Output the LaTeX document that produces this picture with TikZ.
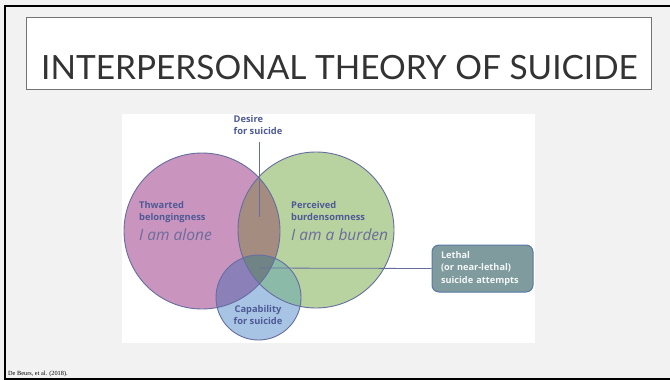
\documentclass[tikz,border=0pt]{standalone}
\usepackage{fontspec}
\setmainfont{Open Sans}
\newfontfamily\titlefont{Lato}
\newfontfamily\reffont{Liberation Serif}
\usetikzlibrary{calc}
\definecolor{slideBg}{RGB}{242,242,242}
\definecolor{pinkFill}{RGB}{201,148,190}
\definecolor{greenFill}{RGB}{184,210,160}
\definecolor{lensFill}{RGB}{165,140,128}
\definecolor{blueFill}{RGB}{168,196,228}
\definecolor{pinkBlue}{RGB}{140,128,184}
\definecolor{greenBlue}{RGB}{140,186,168}
\definecolor{tripleFill}{RGB}{112,132,134}
\definecolor{outlineCol}{RGB}{102,110,160}
\definecolor{labelCol}{RGB}{78,90,150}
\definecolor{quoteCol}{RGB}{108,108,155}
\definecolor{lethalFill}{RGB}{127,155,158}
\definecolor{lethalDraw}{RGB}{88,120,168}
\newcommand{\bigradius}{78}
\newcommand{\smallradius}{42.5}
\tikzset{
	venn/.style={draw=outlineCol, line width=0.9pt},
	vennlabel/.style={text=labelCol, font=\bfseries\fontsize{9.3}{12}\selectfont, align=left, inner sep=0pt},
	vennquote/.style={text=quoteCol, font=\itshape\fontsize{15.5}{17}\selectfont, inner sep=0pt},
	pointer/.style={draw=outlineCol, line width=0.8pt},
	lethalbox/.style={draw=lethalDraw, line width=1pt, fill=lethalFill, rounded corners=7pt,
		text=white!92!lethalFill, font=\bfseries\fontsize{9.2}{12.5}\selectfont, align=left,
		text width=83pt, minimum height=47pt, inner xsep=9pt, inner ysep=0pt}
}

\begin{document}
\begin{tikzpicture}[x=1pt,y=-1pt]
	\useasboundingbox (0,0) rectangle (670,380);
	\fill[slideBg] (0,0) rectangle (670,380);
	\draw[line width=2pt] (670,6) -- (5,6) -- (5,379) -- (670,379);

	% title
	\node[draw=black!55, line width=0.8pt, fill=white, minimum width=625pt, minimum height=72pt,
		anchor=north west, inner sep=0pt] (titlebox) at (26,17) {};
	\node[font=\titlefont\fontsize{33.4}{33}\selectfont, text=black!80, anchor=base west, inner sep=0pt]
		(title) at (41,79) {INTERPERSONAL THEORY OF SUICIDE};

	% figure
	\fill[white] (122,114) rectangle (535,343);
	\coordinate (P) at (202,231);
	\coordinate (G) at (316,230);
	\coordinate (B) at (258.5,297.5);

	\fill[pinkFill] (P) circle (\bigradius);
	\fill[greenFill] (G) circle (\bigradius);
	\begin{scope}
		\clip (P) circle (\bigradius);
		\fill[lensFill] (G) circle (\bigradius);
	\end{scope}
	\fill[blueFill] (B) circle (\smallradius);
	\begin{scope}
		\clip (B) circle (\smallradius);
		\fill[pinkBlue] (P) circle (\bigradius);
		\fill[greenBlue] (G) circle (\bigradius);
		\clip (P) circle (\bigradius);
		\fill[tripleFill] (G) circle (\bigradius);
	\end{scope}
	\draw[venn] (P) circle (\bigradius) (G) circle (\bigradius) (B) circle (\smallradius);

	\node[vennlabel, anchor=north west] (thwarted) at (139,201) {Thwarted\\belongingness};
	\node[vennquote, anchor=north west] (alone) at (139,229) {I am alone};
	\node[vennlabel, anchor=north west] (perceived) at (291,201) {Perceived\\burdensomness};
	\node[vennquote, anchor=north west] (burden) at (291,229) {I am a burden};
	\node[vennlabel, align=center, anchor=north] (capability) at (258,305) {Capability\\for suicide};

	\node[vennlabel, anchor=north] (desire) at (258,115) {Desire\\for suicide};
	\coordinate (desiretip) at (259,217);
	\draw[pointer] (desiretip |- desire.south) ++(0,7) -- (desiretip);

	\node[lethalbox] (lethal) at (482.5,268.5) {Lethal\\(or near-lethal)\\suicide attempts};
	\coordinate (lethaltip) at (259,268);
	\draw[pointer] (lethal.west) -- (lethaltip);

	\node[font=\reffont\fontsize{6.3}{7}\selectfont, anchor=base west, inner sep=0pt] (source) at (8,375)
		{De Beurs, et al. (2018).};
\end{tikzpicture}
\end{document}
